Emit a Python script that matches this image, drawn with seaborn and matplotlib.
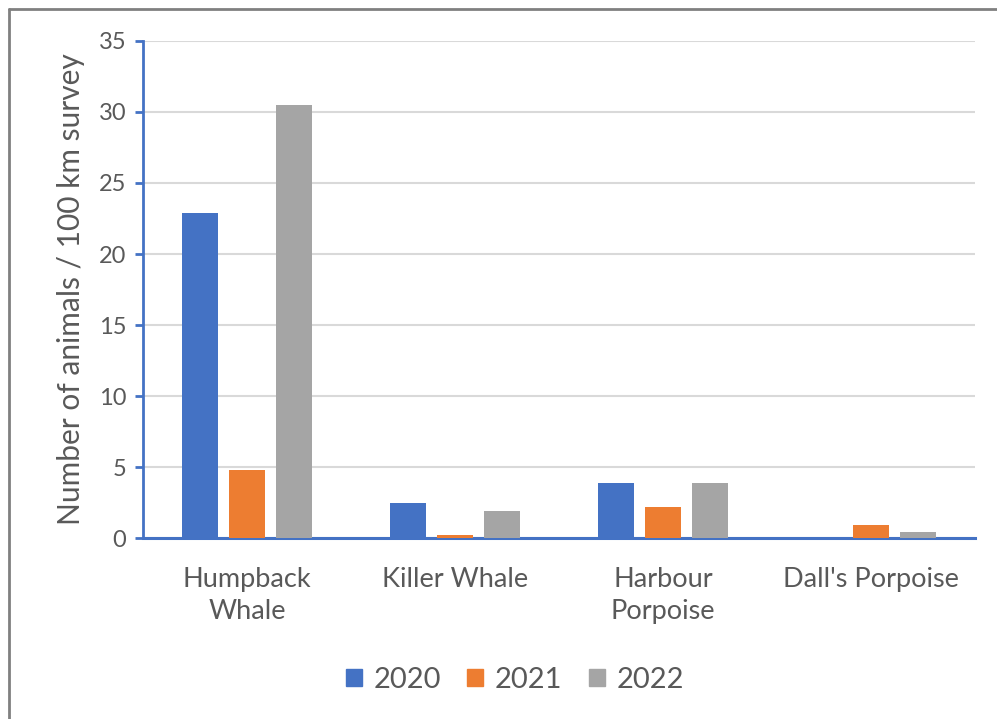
import matplotlib
matplotlib.use("Agg")
import matplotlib.pyplot as plt
from matplotlib.lines import Line2D
import seaborn as sns
import pandas as pd

categories = ["Humpback\nWhale", "Killer Whale", "Harbour\nPorpoise", "Dall's Porpoise"]
years = ["2020", "2021", "2022"]
values_2020 = [22.9, 2.5, 3.9, 0.0]
values_2021 = [4.8, 0.2, 2.2, 0.9]
values_2022 = [30.5, 1.9, 3.9, 0.4]
colors = ["#4472C4", "#ED7D31", "#A5A5A5"]
yticks = [0, 5, 10, 15, 20, 25, 30, 35]

rows = []
for yr, vals in zip(years, [values_2020, values_2021, values_2022]):
    for c, v in zip(categories, vals):
        rows.append({"Species": c, "Year": yr, "Value": v})
df = pd.DataFrame(rows)

sns.set_theme(style="white")
plt.rcParams['font.family'] = ['Lato', 'DejaVu Sans']

fig = plt.figure(figsize=(9.97, 7.19), dpi=100)
ax = fig.add_axes([0.1434, 0.2517, 0.8346, 0.6913])

sns.barplot(data=df, x="Species", y="Value", hue="Year", palette=colors,
            width=0.68, gap=0.23, ax=ax, order=categories, hue_order=years,
            saturation=1, errorbar=None, zorder=3, linewidth=0)

ax.set_ylim(0, 35)
ax.set_yticks(yticks)
ax.set_xlim(-0.5, 3.5)
ax.yaxis.grid(True, color="#D9D9D9", linewidth=1.5)
ax.set_axisbelow(True)
for s in ["top", "right"]:
    ax.spines[s].set_visible(False)
ax.spines["left"].set_color("#4472C4")
ax.spines["left"].set_linewidth(2)
ax.spines["bottom"].set_color("#4472C4")
ax.spines["bottom"].set_linewidth(2.2)
ax.spines["bottom"].set_zorder(2)
ax.tick_params(axis="y", which="major", left=True, length=6, width=2,
               color="#4472C4", labelsize=17, labelcolor="#595959", pad=6)
ax.tick_params(axis="x", bottom=False, labelsize=19.5, labelcolor="#595959", pad=15)
for lbl in ax.get_xticklabels():
    lbl.set_linespacing(1.35)
ax.set_xlabel("")
ax.set_ylabel("Number of animals / 100 km survey", fontsize=21.5, color="#595959", labelpad=10)

ax.legend_.remove()
handles = [plt.Rectangle((0, 0), 1, 1, color=c) for c in colors]
leg = fig.legend(handles, years, loc="center", bbox_to_anchor=(515 / 997, 1 - 680 / 719), ncol=3,
                 frameon=False, fontsize=21, handlelength=0.55, handleheight=0.55,
                 handletextpad=0.4, columnspacing=0.9)
for t in leg.get_texts():
    t.set_color("#595959")

fig.add_artist(Line2D([0.0095, 1.0], [1 - 9 / 719, 1 - 9 / 719], color="#808080", linewidth=2, transform=fig.transFigure))
fig.add_artist(Line2D([0.0095, 0.0095], [0.0, 1 - 9 / 719], color="#808080", linewidth=2, transform=fig.transFigure))

fig.savefig("out.png", dpi=100, facecolor="white")
